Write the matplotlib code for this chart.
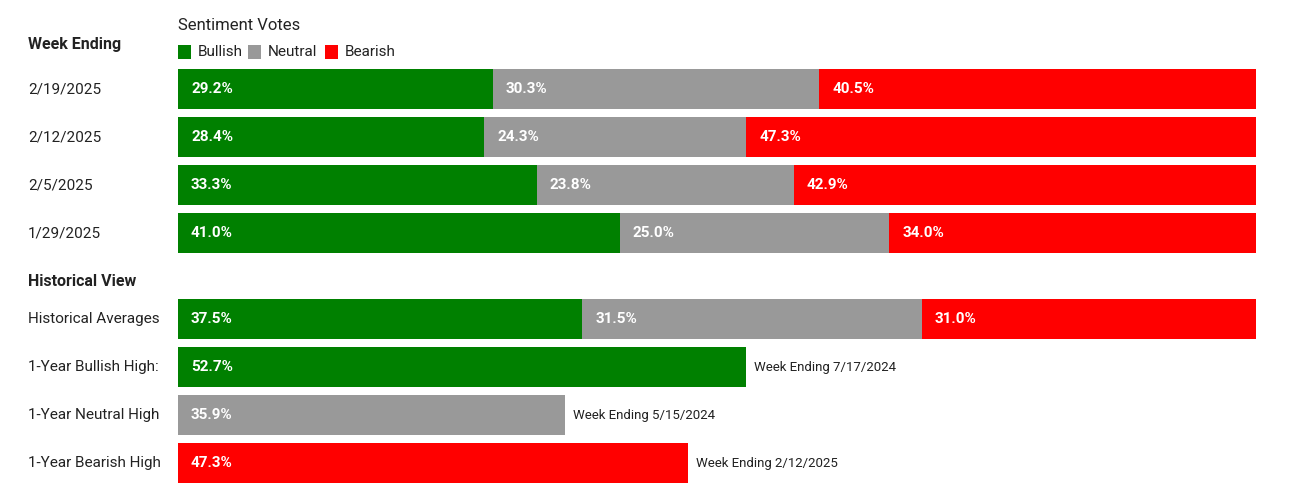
import matplotlib
matplotlib.use("Agg")
import matplotlib.pyplot as plt
from matplotlib.patches import Rectangle

plt.rcParams['font.family'] = ['Roboto', 'DejaVu Sans']

# weekly sentiment votes (%)
weeks = ["2/19/2025", "2/12/2025", "2/5/2025", "1/29/2025"]
bullish = [29.2, 28.4, 33.3, 41.0]
neutral = [30.3, 24.3, 23.8, 25.0]
bearish = [40.5, 47.3, 42.9, 34.0]

# historical view
hist_avg = [37.5, 31.5, 31.0]
high_labels = ["1-Year Bullish High:", "1-Year Neutral High", "1-Year Bearish High"]
high_values = [52.7, 35.9, 47.3]
high_weeks = ["Week Ending 7/17/2024", "Week Ending 5/15/2024", "Week Ending 2/12/2025"]

GREEN = "#008000"
GREY = "#999999"
RED = "#ff0000"
TXT = "#222222"
colors = [GREEN, GREY, RED]

W, H = 1291, 490
fig = plt.figure(figsize=(W / 100, H / 100), dpi=100)
x0, x1 = 178, 1256
ax = fig.add_axes([x0 / W, 0, (x1 - x0) / W, 1])
ax.set_xlim(0, 100)
ax.set_ylim(H, 0)
ax.axis("off")

bar_h = 40
week_y = [89, 137, 185, 233]
hist_y = [319, 367, 415, 463]
pad = 13 / 10.78  # label offset in % units


def seg_bars(y, vals):
    left = 0
    for v, c in zip(vals, colors):
        ax.barh(y, v, left=left, height=bar_h, color=c, linewidth=0)
        ax.text(left + pad, y, f"{v:.1f}%", color="white", fontsize=11,
                fontweight="bold", va="center", ha="left")
        left += v


lab_x = 28 / W
for y, wk, b, n, r in zip(week_y, weeks, bullish, neutral, bearish):
    seg_bars(y, [b, n, r])
    fig.text(lab_x, 1 - y / H, wk, fontsize=11, color=TXT, va="center")

seg_bars(hist_y[0], hist_avg)
fig.text(lab_x, 1 - hist_y[0] / H, "Historical Averages", fontsize=11, color=TXT, va="center")

for y, lab, v, wk, c in zip(hist_y[1:], high_labels, high_values, high_weeks, colors):
    ax.barh(y, v, height=bar_h, color=c, linewidth=0)
    ax.text(pad, y, f"{v:.1f}%", color="white", fontsize=11,
            fontweight="bold", va="center", ha="left")
    ax.text(v + 8 / 10.78, y, wk, color=TXT, fontsize=9.5, va="center", ha="left")
    fig.text(lab_x, 1 - y / H, lab, fontsize=11, color=TXT, va="center")

# headers
fig.text(lab_x, 1 - 45 / H, "Week Ending", fontsize=11.5, fontweight="bold", color=TXT, va="center")
fig.text(lab_x, 1 - 281 / H, "Historical View", fontsize=11.5, fontweight="bold", color=TXT, va="center")
fig.text(x0 / W, 1 - 25 / H, "Sentiment Votes", fontsize=12, color=TXT, va="center")

# legend
lx = x0
for name, c, w in zip(["Bullish", "Neutral", "Bearish"], colors, [70, 77, 0]):
    fig.patches.append(Rectangle((lx / W, 1 - 59 / H), 13 / W, 14 / H,
                                 transform=fig.transFigure, color=c, linewidth=0))
    t = fig.text((lx + 20) / W, 1 - 52 / H, name, fontsize=11, color=TXT, va="center")
    lx += w

fig.savefig("out.png", dpi=100)
